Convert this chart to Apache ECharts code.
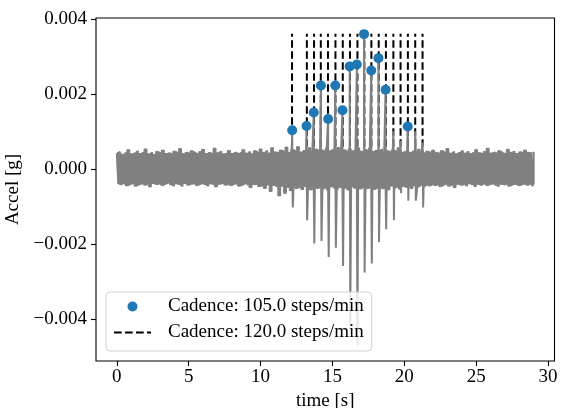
<!DOCTYPE html>
<html><head><meta charset="utf-8">
<script src="https://cdn.jsdelivr.net/npm/echarts@6/dist/echarts.min.js"></script>
<style>html,body{margin:0;padding:0;background:#fff}#c{width:561px;height:408px}</style>
</head><body><div id="c"></div>
<script>
// values of the acceleration signal are in units of 1e-4 g
const UNIT = 1e-4;
const noiseStep = 0.2; // s between envelope samples
const noiseUpper = [
 4.2,4.6,3.9,4.4,5.1,4.0,4.3,4.8,4.1,4.5,
 5.3,4.0,4.4,3.8,4.6,4.2,5.0,4.1,4.3,3.9,
 4.7,4.2,5.4,4.0,4.5,4.1,4.8,4.3,3.9,4.6,
 5.2,4.1,4.4,4.0,5.5,4.3,4.7,4.0,4.2,4.9,
 4.1,4.5,4.0,4.4,5.1,4.2,4.6,4.0,4.8,4.3,
 5.3,4.4,4.9,4.2,5.6,4.5,4.3,5.0,4.6,5.8,
 4.4,5.2,4.7,5.9,4.5,5.0,4.8,5.6,4.6,5.3,
 4.9,5.1,4.7,5.5,4.8,5.2,5.0,5.7,4.9,5.1,
 4.6,5.4,4.8,5.0,5.6,4.7,5.2,4.9,5.5,4.6,
 5.0,4.8,5.3,4.5,4.9,4.4,5.1,4.6,5.6,4.3,
 4.7,5.0,4.4,4.8,4.2,5.2,4.5,4.1,4.7,4.3,
 5.0,4.4,4.1,4.8,4.3,5.4,4.2,4.6,4.0,4.5,
 4.9,4.2,4.7,4.1,4.4,5.1,4.3,4.0,4.6,5.5,
 4.2,4.5,4.1,4.8,4.3,4.0,5.2,4.4,4.7,4.1,
 4.6,4.3,5.0,4.4,4.2,4.5
];
const noiseLower = [
 -4.0,-4.3,-3.8,-4.5,-4.1,-3.9,-4.6,-4.2,-4.0,-4.4,
 -4.1,-4.8,-3.9,-4.2,-4.0,-4.5,-4.1,-3.8,-4.3,-4.6,
 -4.0,-4.2,-4.7,-3.9,-4.4,-4.1,-4.0,-4.5,-4.2,-3.9,
 -4.3,-4.6,-4.0,-4.2,-4.8,-4.1,-3.9,-4.4,-4.2,-4.5,
 -4.1,-4.0,-4.6,-4.3,-3.9,-4.4,-5.0,-4.2,-4.1,-4.7,
 -4.5,-5.2,-4.3,-6.0,-4.4,-4.8,-7.2,-4.6,-6.5,-4.9,
 -5.8,-4.6,-5.2,-4.8,-5.5,-4.7,-5.0,-5.6,-4.8,-5.3,
 -4.9,-5.4,-5.0,-5.7,-4.8,-5.2,-5.5,-4.9,-5.3,-5.0,
 -5.6,-4.8,-5.2,-5.0,-5.4,-4.9,-5.3,-5.1,-4.8,-5.5,
 -5.0,-4.7,-5.3,-4.9,-5.6,-4.6,-5.1,-4.8,-5.4,-4.7,
 -5.0,-4.6,-5.2,-4.5,-4.9,-4.4,-4.8,-4.3,-4.6,-4.2,
 -4.5,-4.1,-4.7,-4.3,-4.0,-4.6,-4.2,-5.0,-4.1,-4.4,
 -4.2,-4.6,-4.0,-4.3,-4.8,-4.1,-4.4,-4.0,-4.5,-4.2,
 -4.0,-4.4,-4.7,-4.1,-4.3,-4.0,-4.6,-4.2,-4.1,-4.5,
 -4.3,-4.0,-4.4,-4.1,-4.6,-4.2
];
// footstep impacts in the signal
const stepTimes   = [12.2, 13.2, 13.7, 14.2, 14.7, 15.2, 15.7, 16.2, 16.7, 17.2, 17.7, 18.2, 18.7, 19.24, 19.74, 20.24, 20.76, 21.27];
const stepPeaks   = [10.3, 11.4, 15.0, 22.2, 13.3, 22.2, 15.6, 27.3, 27.8, 35.9, 26.2, 29.5, 21.1, 10.0, 7.5, 11.3, 10.0, 7.0];
const stepTroughs = [-10.3, -13.7, -19.9, -19.2, -23.5, -21.0, -25.9, -42.0, -47.0, -27.6, -25.2, -19.5, -16.1, -13.7, -6.5, -8.5, -8.5, -10.3];
// detected steps (cadence 105 steps/min)
const cadence105Times  = [12.2, 13.2, 13.7, 14.2, 14.7, 15.2, 15.7, 16.2, 16.7, 17.2, 17.7, 18.2, 18.7, 20.24];
const cadence105Values = [10.3, 11.4, 15.0, 22.2, 13.3, 22.2, 15.6, 27.3, 27.8, 35.9, 26.2, 29.5, 21.1, 11.3];
// reference steps (cadence 120 steps/min)
const cadence120Times = [12.19, 13.22, 13.72, 14.19, 14.69, 15.21, 15.72, 16.22, 16.74, 17.22, 17.71, 18.22, 18.72, 19.24, 19.74, 20.25, 20.76, 21.27];
const cadence120Top = 36.0;
const xTicks = [0, 5, 10, 15, 20, 25, 30];
const yTicks = [-0.004, -0.002, 0, 0.002, 0.004];
const legendNames = ['Cadence: 105.0 steps/min', 'Cadence: 120.0 steps/min'];

// build signal line
const signal = [];
const upperEnv = [];
const lowerEnv = [];
for (let i = 0; i < noiseUpper.length; i++) {
  const t = i * noiseStep;
  signal.push([t, noiseUpper[i] * UNIT]);
  upperEnv.push([t, noiseUpper[i] * UNIT]);
  const tl = Math.min(t + noiseStep / 2, 29.0);
  signal.push([tl, noiseLower[i] * UNIT]);
  lowerEnv.push([tl, noiseLower[i] * UNIT]);
}
for (let k = 0; k < stepTimes.length; k++) {
  signal.push([stepTimes[k], stepPeaks[k] * UNIT]);
  signal.push([stepTimes[k] + 0.04, stepTroughs[k] * UNIT]);
}
signal.sort((a, b) => a[0] - b[0]);

const dots = cadence105Times.map((t, i) => [t, cadence105Values[i] * UNIT]);
const vlines = [];
cadence120Times.forEach(t => { vlines.push([t, 0]); vlines.push([t, cadence120Top * UNIT]); vlines.push([t, '-']); });

const FONT = 'Liberation Serif';
const GRAY = '#808080';
const fmtY = v => (v < -1e-9 ? '\u2212' : '') + Math.abs(v).toFixed(3);

const chart = echarts.init(document.getElementById('c'), null, {renderer: 'canvas'});
chart.setOption({
  animation: false,
  backgroundColor: '#fff',
  textStyle: {fontFamily: FONT},
  grid: {left: 96, right: 6.5, top: 18, bottom: 47, show: true, borderColor: '#000', borderWidth: 1.1,
         containLabel: false, outerBoundsMode: 'none'},
  xAxis: {
    type: 'value', min: -1.45, max: 30.45,
    axisLine: {show: false, onZero: false},
    splitLine: {show: false},
    axisTick: {show: true, inside: false, customValues: xTicks, length: 5, lineStyle: {color: '#000', width: 1.1}},
    axisLabel: {customValues: xTicks, fontSize: 19, color: '#000', margin: 7, fontFamily: FONT},
    name: 'time [s]', nameLocation: 'middle', nameGap: 28,
    nameTextStyle: {fontSize: 19, color: '#000', fontFamily: FONT}
  },
  yAxis: {
    type: 'value', min: -0.00512, max: 0.00402,
    axisLine: {show: false, onZero: false},
    splitLine: {show: false},
    axisTick: {show: true, inside: false, customValues: yTicks, length: 5, lineStyle: {color: '#000', width: 1.1}},
    axisLabel: {customValues: yTicks, fontSize: 19, color: '#000', margin: 9, fontFamily: FONT, formatter: fmtY},
    name: 'Accel [g]', nameLocation: 'middle', nameGap: 67,
    nameTextStyle: {fontSize: 19, color: '#000', fontFamily: FONT}
  },
  legend: {
    left: 106, top: 292, orient: 'vertical',
    itemWidth: 37, itemHeight: 10, itemGap: 7,
    padding: [5, 8, 9, 7],
    borderColor: '#d0d0d0', borderWidth: 1, borderRadius: 4,
    backgroundColor: 'rgba(255,255,255,0.8)',
    z: 10,
    textStyle: {fontSize: 19, color: '#000', fontFamily: FONT, padding: [0, 0, 0, 12]},
    data: [
      {name: legendNames[0], icon: 'circle'},
      {name: legendNames[1], itemStyle: {opacity: 0}}
    ]
  },
  series: [
    {
      name: legendNames[1], type: 'line', data: vlines, z: 1,
      symbol: 'none', showSymbol: false, connectNulls: false,
      lineStyle: {color: '#000', width: 2, type: [7.7, 3.3]},
      itemStyle: {color: '#000'}
    },
    {
      name: 'upper', type: 'line', data: upperEnv, z: 2, step: 'middle',
      symbol: 'none', showSymbol: false,
      lineStyle: {color: GRAY, width: 1},
      areaStyle: {origin: 0, color: GRAY, opacity: 1}
    },
    {
      name: 'lower', type: 'line', data: lowerEnv, z: 2, step: 'middle',
      symbol: 'none', showSymbol: false,
      lineStyle: {color: GRAY, width: 1},
      areaStyle: {origin: 0, color: GRAY, opacity: 1}
    },
    {
      name: 'signal', type: 'line', data: signal, z: 2,
      symbol: 'none', showSymbol: false, sampling: null,
      lineStyle: {color: GRAY, width: 2},
      itemStyle: {color: GRAY}
    },
    {
      name: legendNames[0], type: 'scatter', data: dots, z: 3,
      symbol: 'circle', symbolSize: 10,
      itemStyle: {color: '#1f77b4', opacity: 1}
    }
  ]
});
</script>
</body></html>
